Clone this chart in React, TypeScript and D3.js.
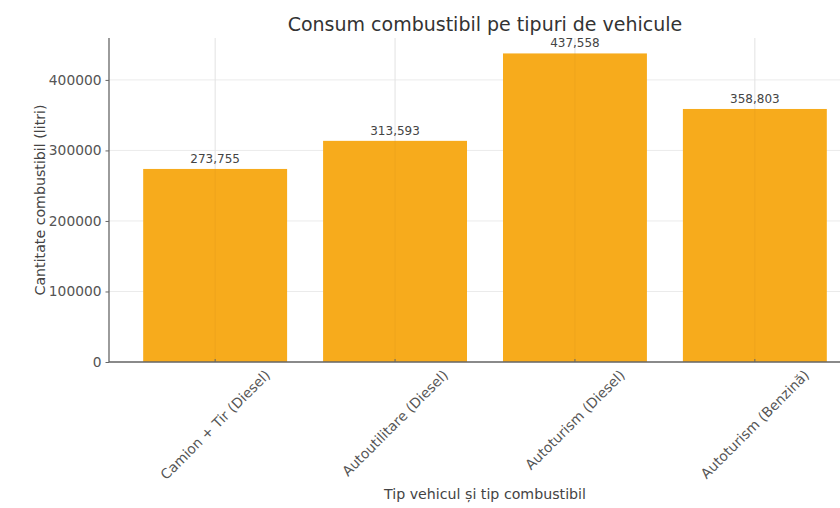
import React, { useEffect, useRef } from "react";
import * as d3 from "d3";

const categories = [
  "Camion + Tir (Diesel)",
  "Autoutilitare (Diesel)",
  "Autoturism (Diesel)",
  "Autoturism (Benzină)",
];
const values = [273755, 313593, 437558, 358803];
const yTicks = [0, 100000, 200000, 300000, 400000];
const title = "Consum combustibil pe tipuri de vehicule";
const xLabel = "Tip vehicul și tip combustibil";
const yLabel = "Cantitate combustibil (litri)";

const W = 840;
const H = 508;
const M = { left: 109, right: 861, top: 38, bottom: 362 };
const FONT = "DejaVu Sans, sans-serif";
const BAR = "#F7AB1C";

export default function App() {
  const ref = useRef<SVGSVGElement | null>(null);

  useEffect(() => {
    const svg = d3.select(ref.current);
    svg.selectAll("*").remove();

    const x = d3
      .scaleBand<string>()
      .domain(categories)
      .range([M.left, M.right])
      .paddingInner(0.2)
      .paddingOuter(0.19);
    const yMax = d3.max(values)! * 1.05;
    const y = d3.scaleLinear().domain([0, yMax]).range([M.bottom, M.top]);

    svg.append("rect").attr("width", W).attr("height", H).attr("fill", "#fff");

    // grid behind
    const grid = svg.append("g");
    grid
      .selectAll("line.h")
      .data(yTicks)
      .join("line")
      .attr("x1", M.left)
      .attr("x2", M.right)
      .attr("y1", (d) => y(d))
      .attr("y2", (d) => y(d))
      .attr("stroke", "#ebebeb")
      .attr("stroke-width", 1);
    grid
      .selectAll("line.v")
      .data(categories)
      .join("line")
      .attr("x1", (d) => x(d)! + x.bandwidth() / 2)
      .attr("x2", (d) => x(d)! + x.bandwidth() / 2)
      .attr("y1", M.top)
      .attr("y2", M.bottom)
      .attr("stroke", "#ebebeb")
      .attr("stroke-width", 1);

    // bars
    svg
      .append("g")
      .selectAll("rect")
      .data(values)
      .join("rect")
      .attr("x", (_, i) => x(categories[i])!)
      .attr("width", x.bandwidth())
      .attr("y", (d) => y(d))
      .attr("height", (d) => M.bottom - y(d))
      .attr("fill", BAR);

    // faint grid over bars
    svg
      .append("g")
      .selectAll("line")
      .data(categories)
      .join("line")
      .attr("x1", (d) => x(d)! + x.bandwidth() / 2)
      .attr("x2", (d) => x(d)! + x.bandwidth() / 2)
      .attr("y1", M.top)
      .attr("y2", M.bottom)
      .attr("stroke", "rgba(0,0,0,0.04)")
      .attr("stroke-width", 1);

    // value labels
    svg
      .append("g")
      .selectAll("text")
      .data(values)
      .join("text")
      .attr("x", (_, i) => x(categories[i])! + x.bandwidth() / 2)
      .attr("y", (d) => y(d) - 6)
      .attr("text-anchor", "middle")
      .attr("font-family", FONT)
      .attr("font-size", 12)
      .attr("fill", "#444")
      .text((d) => d3.format(",")(d));

    // y axis
    const yAxis = svg
      .append("g")
      .attr("transform", `translate(${M.left},0)`)
      .call(d3.axisLeft(y).tickValues(yTicks).tickSize(3.5).tickPadding(4).tickFormat(d3.format("d")));
    yAxis.select(".domain").attr("stroke", "#666").attr("stroke-width", 1.3).attr("d", `M0,${M.top}V${M.bottom}`);
    yAxis.selectAll(".tick line").attr("stroke", "#666");
    yAxis
      .selectAll(".tick text")
      .attr("font-family", FONT)
      .attr("font-size", 13.8)
      .attr("fill", "#555");

    // x axis
    const xAxis = svg
      .append("g")
      .attr("transform", `translate(0,${M.bottom})`)
      .call(d3.axisBottom(x).tickSize(-3).tickFormat(() => ""));
    xAxis.select(".domain").attr("stroke", "#666").attr("stroke-width", 1.3).attr("d", `M${M.left},0H${M.right}`);
    xAxis.selectAll(".tick line").attr("stroke", "#666");

    // rotated x tick labels, bbox centered on tick
    const labels = svg.append("g");
    const fs = 13.8;
    categories.forEach((c) => {
      const cx = x(c)! + x.bandwidth() / 2;
      const t = labels
        .append("text")
        .attr("font-family", FONT)
        .attr("font-size", fs)
        .attr("fill", "#555")
        .attr("text-anchor", "middle")
        .attr("dominant-baseline", "central")
        .text(c);
      const L = (t.node() as SVGTextElement).getComputedTextLength();
      const h = fs * 1.1;
      const bh = (L + h) * Math.SQRT1_2;
      const top = M.bottom + 5;
      const cy = top + bh / 2;
      t.attr("x", cx).attr("y", cy).attr("transform", `rotate(-45,${cx},${cy})`);
    });

    // title
    svg
      .append("text")
      .attr("x", (M.left + M.right) / 2)
      .attr("y", 30.5)
      .attr("text-anchor", "middle")
      .attr("font-family", FONT)
      .attr("font-size", 19)
      .attr("fill", "#333")
      .text(title);

    // x label
    svg
      .append("text")
      .attr("x", (M.left + M.right) / 2)
      .attr("y", 499)
      .attr("text-anchor", "middle")
      .attr("font-family", FONT)
      .attr("font-size", 14.2)
      .attr("fill", "#444")
      .text(xLabel);

    // y label
    svg
      .append("text")
      .attr("transform", `translate(45,${(M.top + M.bottom) / 2}) rotate(-90)`)
      .attr("text-anchor", "middle")
      .attr("font-family", FONT)
      .attr("font-size", 14.2)
      .attr("fill", "#444")
      .text(yLabel);
  }, []);

  return (
    <svg
      ref={ref}
      width={W}
      height={H}
      style={{ position: "absolute", left: 0, top: 0, display: "block" }}
    />
  );
}
